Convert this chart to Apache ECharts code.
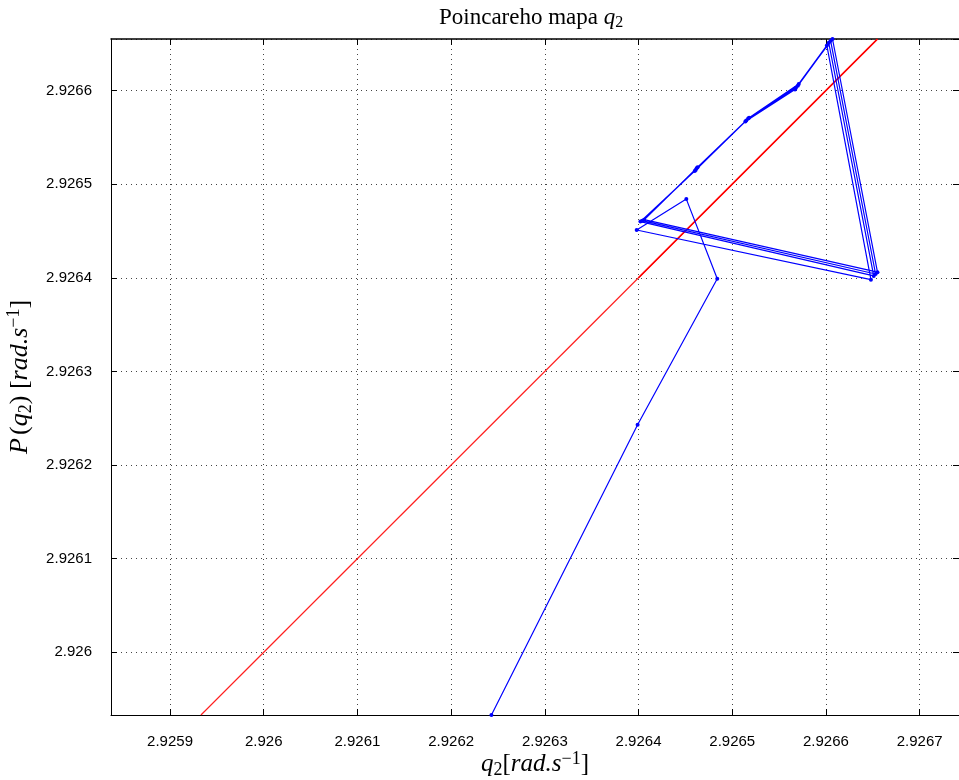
<!DOCTYPE html>
<html>
<head>
<meta charset="utf-8">
<script src="https://cdn.jsdelivr.net/npm/echarts@6/dist/echarts.min.js"></script>
<style>
    html, body { margin: 0; padding: 0; background: #fff; }
    #chart { width: 959px; height: 780px; }
</style>
</head>
<body>
<div id="chart"></div>
<script>
// q2 on successive Poincare section crossings
const q2Iterates = [
    2.925933, 2.926243, 2.926399, 2.926484, 2.926451, 2.926398,
    2.926648, 2.926601, 2.926567, 2.926514, 2.926460, 2.926402,
    2.926651, 2.926603, 2.926568, 2.926515, 2.926461, 2.926404,
    2.926653, 2.926605, 2.926570, 2.926517, 2.926462, 2.926406,
    2.926655, 2.926607, 2.926571, 2.926518, 2.926463,
];
// identity line P(q) = q, visible part
const diagonal = [2.925933, 2.926655];
const diagonalUpper = [2.9264, 2.926655];

const xRange = [2.925837, 2.926742];
const yRange = [2.925933, 2.926655];

const mapPoints = q2Iterates.slice(1).map((q, i) => [q, q2Iterates[i]]);

const labelFont = { color: '#000', fontSize: 15, fontFamily: '"Liberation Sans", Arial, sans-serif' };
const serif = '"Liberation Serif", "DejaVu Serif", serif';
const mathRich = (size) => ({
    t: { fontFamily: serif, fontSize: size, fontWeight: 'normal', color: '#000' },
    i: { fontFamily: serif, fontSize: size, fontWeight: 'normal', fontStyle: 'italic', color: '#000' },
    sub: { fontFamily: serif, fontSize: Math.round(size * 0.7), fontWeight: 'normal', color: '#000', verticalAlign: 'bottom', padding: [Math.round(size * 0.45), 0, 0, 0] },
    sup: { fontFamily: serif, fontSize: Math.round(size * 0.7), fontWeight: 'normal', color: '#000', verticalAlign: 'top', padding: [0, 0, Math.round(size * 0.45), 0] },
});
const dotted = { color: '#444', width: 1, type: [1, 4] };

const chart = echarts.init(document.getElementById('chart'), null, { renderer: 'canvas' });

chart.setOption({
    backgroundColor: '#fff',
    animation: false,
    title: {
        text: '{t|Poincareho mapa }{i|q}{sub|2}',
        left: 434,
        top: 0,
        textStyle: { fontWeight: 'normal', rich: mathRich(23) },
    },
    grid: { left: 111, right: 0, top: 39, bottom: 65, outerBoundsMode: 'none', containLabel: false },
    xAxis: [
        {
            type: 'value',
            min: xRange[0],
            max: xRange[1],
            splitNumber: 9,
            name: '{i|q}{sub|2}{t|[}{i|rad.s}{sup|−1}{t|]}',
            nameLocation: 'middle',
            nameGap: 35,
            nameMoveOverlap: false,
            nameTextStyle: { rich: mathRich(25) },
            axisLine: { onZero: false, lineStyle: { color: '#000', width: 1 } },
            axisTick: { inside: true, length: 6, lineStyle: { color: '#000' } },
            axisLabel: { ...labelFont, margin: 19, showMinLabel: false, showMaxLabel: false },
            splitLine: { show: true, lineStyle: dotted },
        },
        {
            type: 'value',
            position: 'top',
            min: xRange[0],
            max: xRange[1],
            splitNumber: 9,
            axisLine: { onZero: false, lineStyle: { color: '#000', width: 1.5 } },
            axisTick: { inside: true, length: 6, lineStyle: { color: '#000' } },
            axisLabel: { show: false },
            splitLine: { show: false },
        },
    ],
    yAxis: [
        {
            type: 'value',
            min: yRange[0],
            max: yRange[1],
            splitNumber: 7,
            name: '{i|P} {t|(}{i|q}{sub|2}{t|) [}{i|rad.s}{sup|−1}{t|]}',
            nameLocation: 'middle',
            nameGap: 72,
            nameRotate: 90,
            nameTextStyle: { rich: mathRich(26) },
            axisLine: { onZero: false, lineStyle: { color: '#000', width: 1 } },
            axisTick: { inside: true, length: 6, lineStyle: { color: '#000' } },
            axisLabel: { ...labelFont, margin: 19, showMinLabel: false, showMaxLabel: false },
            splitLine: { show: true, lineStyle: dotted },
        },
        {
            type: 'value',
            position: 'right',
            min: yRange[0],
            max: yRange[1],
            splitNumber: 7,
            axisLine: { onZero: false, lineStyle: { color: '#000', width: 1 } },
            axisTick: { inside: true, length: 6, lineStyle: { color: '#000' } },
            axisLabel: { show: false },
            splitLine: { show: false },
        },
    ],
    series: [
        {
            name: 'diag',
            type: 'line',
            color: '#ff0000',
            data: diagonal.map((v) => [v, v]),
            showSymbol: false,
            itemStyle: { color: '#ff0000' },
            lineStyle: { color: '#ff2020', width: 1.2, opacity: 1 },
            z: 2,
        },
        {
            name: 'diag-upper',
            type: 'line',
            color: '#ff0000',
            data: diagonalUpper.map((v) => [v, v]),
            showSymbol: false,
            itemStyle: { color: '#ff0000' },
            lineStyle: { color: '#ff0000', width: 1.6, opacity: 1 },
            z: 2,
        },
        {
            name: 'P(q2)',
            type: 'line',
            color: '#0000ff',
            data: mapPoints,
            symbol: 'circle',
            symbolSize: 4,
            showAllSymbol: true,
            itemStyle: { color: '#0000ff' },
            lineStyle: { color: '#0000ff', width: 1.2 },
            clip: true,
            z: 3,
        },
    ],
});
</script>
</body>
</html>
